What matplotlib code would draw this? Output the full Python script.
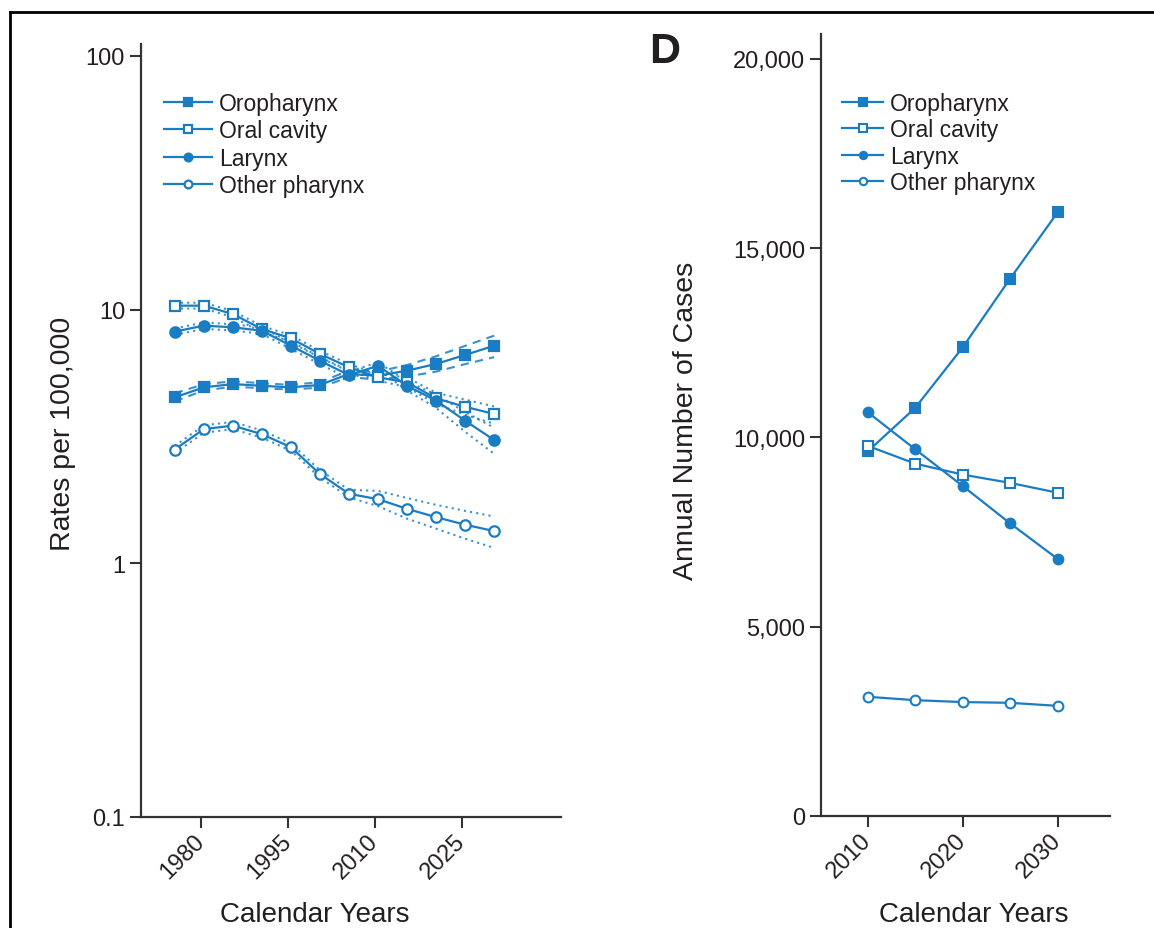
import matplotlib
matplotlib.use("Agg")
import matplotlib.pyplot as plt
from matplotlib.lines import Line2D
from matplotlib.ticker import FixedLocator, FuncFormatter, NullLocator

plt.rcParams["font.family"] = ["Liberation Sans", "DejaVu Sans"]

BLUE = "#1a7dc4"
INK = "#231f20"
AXIS = "#333333"

# left panel: incidence rates per 100,000 (log scale), with projection bands
rate_years = [1975.5, 1980.5, 1985.5, 1990.5, 1995.5, 2000.5,
              2005.5, 2010.5, 2015.5, 2020.5, 2025.5, 2030.5]

oro_rate = [4.51, 4.94, 5.09, 5.01, 4.94, 5.05, 5.58, 5.49, 5.75, 6.11, 6.63, 7.21]
oro_lo = [4.35, 4.80, 4.97, 4.90, 4.84, 4.93, 5.42, 5.30, 5.45, 5.70, 6.10, 6.50]
oro_hi = [4.68, 5.08, 5.22, 5.13, 5.05, 5.18, 5.75, 5.70, 6.05, 6.55, 7.20, 7.90]

oral_rate = [10.37, 10.37, 9.61, 8.39, 7.71, 6.69, 5.93, 5.41, 5.17, 4.47, 4.14, 3.88]
oral_lo = [10.1, 10.1, 9.35, 8.15, 7.5, 6.5, 5.75, 5.25, 4.95, 4.25, 3.85, 3.55]
oral_hi = [10.65, 10.65, 9.88, 8.62, 7.93, 6.88, 6.1, 5.58, 5.4, 4.7, 4.42, 4.15]

lar_rate = [8.19, 8.65, 8.52, 8.26, 7.21, 6.29, 5.52, 6.01, 5.01, 4.38, 3.65, 3.06]
lar_lo = [7.95, 8.4, 8.28, 8.03, 7.0, 6.1, 5.35, 5.82, 4.8, 4.1, 3.3, 2.7]
lar_hi = [8.43, 8.9, 8.76, 8.5, 7.42, 6.48, 5.7, 6.2, 5.22, 4.62, 3.95, 3.42]

oth_rate = [2.81, 3.38, 3.49, 3.23, 2.87, 2.25, 1.88, 1.79, 1.64, 1.52, 1.42, 1.34]
oth_lo = [2.72, 3.27, 3.38, 3.13, 2.78, 2.18, 1.82, 1.68, 1.50, 1.37, 1.25, 1.15]
oth_hi = [2.90, 3.50, 3.61, 3.34, 2.97, 2.33, 1.95, 1.93, 1.81, 1.70, 1.61, 1.53]

# right panel (D): projected annual number of cases
case_years = [2010, 2015, 2020, 2025, 2030]
oro_cases = [9630, 10780, 12380, 14200, 15950]
oral_cases = [9780, 9310, 9020, 8800, 8540]
lar_cases = [10670, 9690, 8720, 7730, 6790]
oth_cases = [3150, 3060, 3010, 2990, 2910]

labels = ["Oropharynx", "Oral cavity", "Larynx", "Other pharynx"]
markers = [("s", BLUE), ("s", "white"), ("o", BLUE), ("o", "white")]

W, H = 1154, 929
fig = plt.figure(figsize=(W / 100, H / 100), dpi=100)
ax1 = fig.add_axes([141 / W, 1 - 818 / H, 420 / W, (818 - 45) / H])
ax2 = fig.add_axes([821 / W, 1 - 817 / H, 289 / W, (817 - 35) / H])


def style(ax):
    for s in ["top", "right"]:
        ax.spines[s].set_visible(False)
    for s in ["left", "bottom"]:
        ax.spines[s].set_linewidth(1.6)
        ax.spines[s].set_color(AXIS)
    ax.tick_params(length=8, width=1.5, color=AXIS, labelsize=17,
                   labelcolor=INK, direction="out")
    ax.tick_params(axis="x", pad=7)
    for lab in ax.get_xticklabels():
        lab.set_rotation(45)
        lab.set_ha("right")
        lab.set_va("center")
        lab.set_rotation_mode("anchor")


# bands first, then the series on top
band_style = [(4, 3), (1, 2), (1, 2), (1, 2)]
bands = [(oro_lo, oro_hi), (oral_lo, oral_hi), (lar_lo, lar_hi), (oth_lo, oth_hi)]
for (lo, hi), dash in zip(bands, band_style):
    for b in (lo, hi):
        ax1.plot(rate_years, b, color=BLUE, lw=1.5, dashes=dash, alpha=0.85, zorder=2)

rates = [oro_rate, oral_rate, lar_rate, oth_rate]
for vals, lab, (m, fc) in zip(rates, labels, markers):
    ax1.plot(rate_years, vals, color=BLUE, lw=1.6, marker=m, markersize=7.5,
             markerfacecolor=fc, markeredgecolor=BLUE, markeredgewidth=1.6,
             label=lab, zorder=3)

ax1.set_yscale("log")
ax1.set_ylim(0.1, 111.5)
ax1.set_xlim(1969.7, 2042)
ax1.yaxis.set_major_locator(FixedLocator([0.1, 1, 10, 100]))
ax1.yaxis.set_major_formatter(FuncFormatter(lambda v, p: f"{v:g}"))
ax1.yaxis.set_minor_locator(NullLocator())
ax1.set_xticks([1980, 1995, 2010, 2025])
style(ax1)
ax1.set_ylabel("Rates per 100,000", fontsize=20.5, color=INK)
ax1.yaxis.set_label_coords(-0.155, 0.497)
ax1.set_xlabel("Calendar Years", fontsize=20, color=INK)
ax1.xaxis.set_label_coords(0.414, -0.109)
ax1.legend(loc="upper left", bbox_to_anchor=(164 / W, 1 - 93 / H),
           bbox_transform=fig.transFigure, frameon=False, fontsize=16.5,
           handlelength=2.1, handletextpad=0.3, labelspacing=0.19,
           borderpad=0, borderaxespad=0, markerscale=0.75, labelcolor=INK)

cases = [oro_cases, oral_cases, lar_cases, oth_cases]
for vals, lab, (m, fc) in zip(cases, labels, markers):
    ax2.plot(case_years, vals, color=BLUE, lw=1.6, marker=m, markersize=7,
             markerfacecolor=fc, markeredgecolor=BLUE, markeredgewidth=1.5,
             label=lab, zorder=3)

ax2.set_ylim(0, 20660)
ax2.set_xlim(2005.1, 2035.5)
ax2.set_yticks([0, 5000, 10000, 15000, 20000])
ax2.yaxis.set_major_formatter(FuncFormatter(lambda v, p: f"{int(v):,}"))
ax2.set_xticks([2010, 2020, 2030])
style(ax2)
ax2.set_ylabel("Annual Number of Cases", fontsize=20.5, color=INK)
ax2.yaxis.set_label_coords(-0.422, 0.506)
ax2.set_xlabel("Calendar Years", fontsize=20, color=INK)
ax2.xaxis.set_label_coords(0.529, -0.109)
ax2.legend(loc="upper left", bbox_to_anchor=(842 / W, 1 - 93 / H),
           bbox_transform=fig.transFigure, frameon=False, fontsize=16.5,
           handlelength=1.8, handletextpad=0.3, labelspacing=0.15,
           borderpad=0, borderaxespad=0, markerscale=0.75, labelcolor=INK)

fig.text(649 / W, 1 - 63 / H, "D", fontsize=31, fontweight="bold", color=INK)

# the cropped frame around the panels
fig.add_artist(Line2D([10 / W, 1], [1 - 13 / H, 1 - 13 / H], color="black", lw=2))
fig.add_artist(Line2D([10 / W, 10 / W], [0, 1 - 13 / H], color="black", lw=2))

fig.savefig("out.png", dpi=100)
